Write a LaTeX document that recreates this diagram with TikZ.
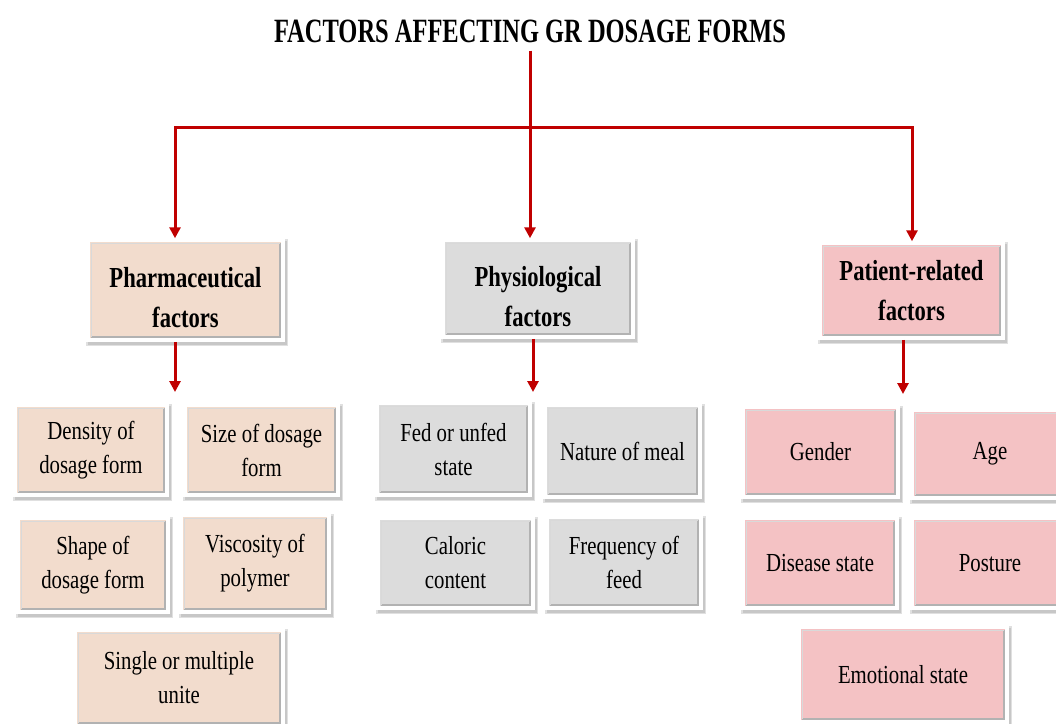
\documentclass[tikz,border=0pt]{standalone}
\usepackage{fontspec}
\setmainfont{Liberation Serif}
\newfontfamily\subf[FakeStretch=0.8]{Liberation Serif}
\newfontfamily\headf[FakeStretch=0.78]{Liberation Serif}
\newfontfamily\titlef[FakeStretch=0.72]{Liberation Serif}
\usetikzlibrary{arrows.meta,calc}
\definecolor{peach}{HTML}{F2DCCD}
\definecolor{greyb}{HTML}{DCDCDC}
\definecolor{pinkb}{HTML}{F4C2C4}
\definecolor{arrred}{HTML}{C00000}
\tikzset{
  box/.style={rectangle, draw=white, line width=3.5pt, inner sep=2pt, align=center,
    preaction={draw=black!12, line width=7pt, transform canvas={xshift=1pt,yshift=-2pt}},
    preaction={draw=black!22, line width=4pt, transform canvas={xshift=1.5pt,yshift=-2.5pt}},
    path picture={\draw[black!30, line width=1.6pt]
      ([xshift=3pt,yshift=3pt]path picture bounding box.south west) --
      ([xshift=-3pt,yshift=3pt]path picture bounding box.south east) --
      ([xshift=-3pt,yshift=-3pt]path picture bounding box.north east);
      \draw[black!15, line width=0.8pt]
      ([xshift=3pt,yshift=3pt]path picture bounding box.south west) --
      ([xshift=3pt,yshift=-3pt]path picture bounding box.north west) --
      ([xshift=-3pt,yshift=-3pt]path picture bounding box.north east);}},
  headbox/.style={box, font=\headf\bfseries\fontsize{29}{40}\selectfont},
  subbox/.style={box, font=\subf\fontsize{26}{34}\selectfont},
  conn/.style={draw=arrred, line width=3pt},
  arr/.style={conn, -{Triangle[width=11pt,length=11pt]}},
}
\begin{document}
\begin{tikzpicture}[x=1pt,y=-1pt]
\useasboundingbox (0,0) rectangle (1056,723);
\node[font=\titlef\bfseries\fontsize{34}{40}\selectfont, inner sep=0pt] (title) at (530,31) {FACTORS AFFECTING GR DOSAGE FORMS};

% header boxes
\node[headbox, fill=peach, minimum width=195pt, minimum height=100pt] (pharm) at (185.5,290) {};
\node[headbox, fill=greyb, minimum width=190pt, minimum height=97pt] (phys) at (538,288.5) {};
\node[headbox, fill=pinkb, minimum width=183pt, minimum height=95pt] (pat) at (911.5,290.5) {};
\node[font=\headf\bfseries\fontsize{29}{40}\selectfont, align=center] (pharmt) at (185.5,298) {Pharmaceutical\\factors};
\node[font=\headf\bfseries\fontsize{29}{40}\selectfont, align=center] (physt) at (538,296.5) {Physiological\\factors};
\node[font=\headf\bfseries\fontsize{29}{40}\selectfont, align=center] (patt) at (911.5,291) {Patient-related\\factors};

% junction coordinates
\coordinate (jm) at (530,127);
\coordinate (jl) at (175,127);
\coordinate (jr) at (912,127);
\draw[conn] (title.south) ++(0,8) coordinate (ts) (ts) -- (jm);
\draw[conn, line cap=rect] (jl) -- (jr);
\draw[arr] (jl) -- (jl |- pharm.north);
\draw[arr] (jm) -- (jm |- phys.north);
\draw[arr] (jr) -- (jr |- pat.north);

% pharmaceutical sub boxes
\node[subbox, fill=peach, minimum width=152pt, minimum height=90pt] (dens) at (91,450) {Density of\\dosage form};
\node[subbox, fill=peach, minimum width=153pt, minimum height=90pt] (size) at (261.5,450) {Size of dosage\\form};
\node[subbox, fill=peach, minimum width=150pt, minimum height=94pt] (shape) at (93,565) {Shape of\\dosage form};
\node[subbox, fill=peach, minimum width=148pt, minimum height=97pt] (visc) at (255,563.5) {Viscosity of\\polymer};
\node[subbox, fill=peach, minimum width=208pt, minimum height=96pt] (single) at (179,678) {Single or multiple\\unite};

% physiological sub boxes
\node[subbox, fill=greyb, minimum width=153pt, minimum height=92pt] (fed) at (453.5,449) {Fed or unfed\\state};
\node[subbox, fill=greyb, minimum width=155pt, minimum height=92pt] (nature) at (622.5,451) {Nature of meal};
\node[subbox, fill=greyb, minimum width=155pt, minimum height=90pt] (caloric) at (455.5,563) {Caloric\\content};
\node[subbox, fill=greyb, minimum width=154pt, minimum height=91pt] (freq) at (624,562.5) {Frequency of\\feed};

% patient sub boxes
\node[subbox, fill=pinkb, minimum width=155pt, minimum height=90pt] (gender) at (820.5,452) {Gender};
\node[subbox, fill=pinkb, minimum width=156pt, minimum height=88pt] (age) at (990,454) {Age};
\node[subbox, fill=pinkb, minimum width=154pt, minimum height=90pt] (disease) at (820,563) {Disease state};
\node[subbox, fill=pinkb, minimum width=156pt, minimum height=90pt] (posture) at (990,563) {Posture};
\node[subbox, fill=pinkb, minimum width=208pt, minimum height=95pt] (emot) at (903,674.5) {Emotional state};

% lower arrows
\coordinate (pa) at (175,392);
\coordinate (ya) at (533,392);
\coordinate (ra) at (903,394);
\draw[arr] (pa |- pharm.south) -- (pa);
\draw[arr] (ya |- phys.south) -- (ya);
\draw[arr] (ra |- pat.south) -- (ra);
\end{tikzpicture}
\end{document}
